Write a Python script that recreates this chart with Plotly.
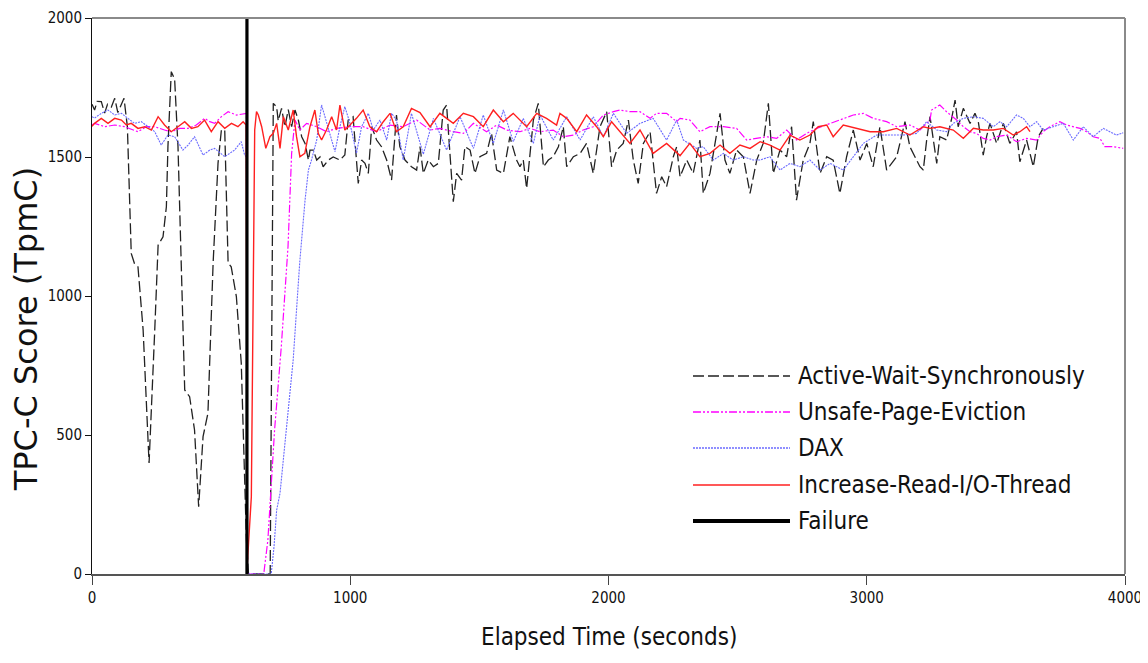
import plotly.graph_objects as go

FAILURE_TIME = 600
Y_MAX = 2000

# (elapsed seconds, TPC-C score)
ACTIVE_WAIT = [
    (0, 1690), (10, 1669), (20, 1700), (36, 1699), (49, 1658), (60, 1690), (75, 1680), (88, 1711),
    (100, 1660), (113, 1690), (124, 1711), (137, 1609), (152, 1153), (165, 1115), (178, 1105),
    (198, 878), (221, 399), (243, 878), (256, 1183), (275, 1213), (288, 1321), (294, 1537),
    (307, 1807), (320, 1780), (333, 1537), (359, 662), (378, 638), (397, 518), (413, 242),
    (430, 494), (449, 579), (469, 1119), (488, 1478), (501, 1597), (514, 1597), (527, 1119),
    (539, 1105), (559, 998), (578, 758), (598, 122), (606, 0), (690, 0),
    (702, 1693), (715, 1680), (721, 1630), (734, 1675), (747, 1609), (760, 1670), (773, 1609),
    (786, 1669), (799, 1633), (812, 1573), (825, 1549), (838, 1489), (844, 1525), (857, 1525),
    (870, 1489), (883, 1500), (895, 1465), (915, 1489), (934, 1500), (960, 1489), (979, 1507),
    (992, 1633), (1011, 1645), (1031, 1405), (1044, 1489), (1057, 1477), (1070, 1441),
    (1083, 1609), (1102, 1561), (1121, 1537), (1141, 1489), (1160, 1417), (1179, 1651),
    (1192, 1537), (1212, 1489), (1237, 1465), (1257, 1453), (1270, 1537), (1283, 1441),
    (1302, 1489), (1322, 1465), (1341, 1477), (1360, 1669), (1373, 1687), (1393, 1441),
    (1399, 1339), (1412, 1441), (1431, 1417), (1444, 1537), (1464, 1525), (1483, 1441),
    (1502, 1501), (1528, 1513), (1547, 1585), (1567, 1453), (1593, 1441), (1618, 1573),
    (1644, 1489), (1657, 1465), (1670, 1489), (1683, 1387), (1709, 1633), (1728, 1693),
    (1748, 1465), (1767, 1489), (1786, 1501), (1806, 1537), (1825, 1609), (1838, 1465),
    (1864, 1501), (1890, 1513), (1915, 1549), (1941, 1441), (1967, 1609), (1993, 1663),
    (2012, 1465), (2032, 1525), (2057, 1549), (2077, 1633), (2096, 1489), (2115, 1405),
    (2135, 1549), (2161, 1591), (2173, 1489), (2186, 1369), (2206, 1429), (2225, 1393),
    (2251, 1501), (2264, 1537), (2277, 1429), (2303, 1489), (2328, 1441), (2354, 1561),
    (2367, 1369), (2393, 1441), (2432, 1657), (2451, 1489), (2470, 1441), (2496, 1525),
    (2522, 1501), (2548, 1369), (2574, 1489), (2599, 1549), (2619, 1693), (2638, 1441),
    (2664, 1525), (2690, 1501), (2709, 1609), (2728, 1345), (2754, 1489), (2780, 1549),
    (2793, 1627), (2819, 1441), (2845, 1501), (2870, 1489), (2896, 1369), (2922, 1501),
    (2948, 1597), (2974, 1489), (3000, 1549), (3025, 1465), (3051, 1609), (3077, 1453),
    (3116, 1501), (3148, 1627), (3167, 1537), (3206, 1465), (3219, 1453), (3232, 1561),
    (3245, 1645), (3258, 1561), (3271, 1477), (3283, 1573), (3309, 1561), (3329, 1639),
    (3342, 1705), (3354, 1609), (3374, 1675), (3400, 1621), (3419, 1657), (3432, 1627),
    (3451, 1507), (3464, 1573), (3477, 1621), (3503, 1549), (3529, 1621), (3554, 1549),
    (3580, 1591), (3593, 1483), (3619, 1561), (3645, 1465), (3664, 1573), (3683, 1603),
]

UNSAFE_PAGE = [
    (0, 1615), (10, 1621), (49, 1609), (88, 1615), (126, 1609), (165, 1597), (178, 1591),
    (210, 1609), (243, 1609), (281, 1597), (307, 1591), (339, 1603), (372, 1603), (404, 1615),
    (436, 1639), (456, 1627), (475, 1621), (501, 1645), (527, 1663), (559, 1651), (591, 1657),
    (598, 1657), (602, 0), (665, 0), (681, 122), (707, 518), (733, 818), (759, 1177),
    (773, 1513), (786, 1633), (805, 1597), (831, 1621), (870, 1609), (908, 1591), (947, 1603),
    (999, 1609), (1050, 1609), (1102, 1591), (1154, 1615), (1205, 1609), (1257, 1633),
    (1309, 1597), (1347, 1603), (1399, 1591), (1438, 1585), (1477, 1621), (1528, 1591),
    (1567, 1615), (1606, 1597), (1657, 1591), (1696, 1603), (1735, 1591), (1786, 1597),
    (1825, 1573), (1864, 1579), (1902, 1597), (1941, 1609), (1980, 1651), (2019, 1663),
    (2044, 1669), (2083, 1663), (2122, 1663), (2161, 1639), (2186, 1657), (2225, 1657),
    (2264, 1627), (2277, 1639), (2315, 1633), (2354, 1591), (2393, 1609), (2445, 1609),
    (2496, 1603), (2535, 1561), (2574, 1567), (2612, 1573), (2651, 1567), (2690, 1597),
    (2728, 1561), (2767, 1585), (2806, 1603), (2858, 1621), (2896, 1633), (2948, 1651),
    (2987, 1657), (3025, 1639), (3077, 1627), (3116, 1609), (3167, 1615), (3206, 1597),
    (3245, 1633), (3251, 1669), (3283, 1687), (3309, 1663), (3348, 1633), (3374, 1609),
    (3400, 1591), (3425, 1585), (3451, 1567), (3477, 1561), (3503, 1573), (3542, 1579),
    (3580, 1555), (3619, 1567), (3658, 1561), (3683, 1591), (3709, 1609), (3748, 1627),
    (3774, 1615), (3800, 1609), (3826, 1603), (3851, 1591), (3877, 1573), (3903, 1567),
    (3922, 1537), (3955, 1537), (3993, 1531),
]

DAX = [
    (0, 1645), (10, 1640), (36, 1657), (62, 1669), (88, 1651), (114, 1657), (139, 1639),
    (165, 1621), (191, 1627), (217, 1609), (243, 1591), (268, 1543), (294, 1579), (320, 1573),
    (352, 1525), (372, 1543), (397, 1573), (430, 1507), (456, 1525), (475, 1531), (514, 1501),
    (552, 1525), (578, 1555), (591, 1507), (598, 1500), (602, 0), (694, 0), (705, 100),
    (715, 230), (728, 290), (741, 410), (760, 600), (779, 770), (792, 950), (805, 1129),
    (825, 1345), (838, 1453), (850, 1489), (870, 1561), (889, 1687), (908, 1621), (928, 1561),
    (941, 1519), (960, 1609), (979, 1681), (999, 1621), (1024, 1513), (1044, 1609),
    (1070, 1657), (1089, 1597), (1115, 1633), (1141, 1561), (1160, 1657), (1179, 1633),
    (1205, 1489), (1237, 1657), (1258, 1590), (1283, 1510), (1322, 1639), (1373, 1525),
    (1425, 1645), (1477, 1531), (1515, 1651), (1554, 1549), (1593, 1669), (1631, 1555),
    (1670, 1639), (1709, 1549), (1735, 1651), (1786, 1561), (1838, 1645), (1890, 1561),
    (1941, 1645), (1980, 1573), (2019, 1657), (2070, 1585), (2122, 1621), (2173, 1639),
    (2225, 1561), (2264, 1633), (2290, 1561), (2341, 1531), (2367, 1537), (2406, 1489),
    (2445, 1513), (2483, 1489), (2522, 1501), (2561, 1489), (2587, 1489), (2625, 1501),
    (2664, 1453), (2703, 1477), (2741, 1465), (2780, 1489), (2819, 1453), (2858, 1477),
    (2909, 1453), (2948, 1501), (2987, 1549), (3038, 1579), (3090, 1579), (3142, 1579),
    (3193, 1585), (3232, 1627), (3271, 1597), (3309, 1591), (3335, 1621), (3374, 1639),
    (3413, 1645), (3451, 1639), (3490, 1609), (3516, 1627), (3542, 1609), (3580, 1651),
    (3606, 1639), (3632, 1609), (3658, 1627), (3683, 1597), (3722, 1609), (3761, 1621),
    (3800, 1561), (3838, 1609), (3877, 1573), (3916, 1603), (3941, 1591), (3967, 1579),
    (3993, 1587),
]

INCREASE_READ = [
    (0, 1610), (10, 1621), (36, 1639), (62, 1621), (88, 1639), (114, 1633), (133, 1615),
    (152, 1621), (178, 1603), (204, 1609), (230, 1597), (256, 1645), (281, 1615), (307, 1591),
    (333, 1609), (359, 1627), (385, 1603), (410, 1609), (436, 1633), (462, 1591), (488, 1627),
    (514, 1603), (540, 1621), (565, 1609), (585, 1627), (597, 1615), (601, 30), (617, 278),
    (630, 1597), (637, 1663), (644, 1651), (657, 1609), (673, 1531), (689, 1573), (702, 1585),
    (715, 1621), (728, 1531), (741, 1645), (760, 1597), (779, 1669), (792, 1573), (805, 1501),
    (824, 1513), (844, 1609), (863, 1669), (876, 1585), (889, 1561), (908, 1597), (928, 1645),
    (947, 1597), (960, 1687), (979, 1597), (999, 1615), (1024, 1639), (1050, 1669),
    (1076, 1609), (1102, 1591), (1128, 1627), (1154, 1657), (1179, 1591), (1205, 1609),
    (1237, 1675), (1270, 1660), (1309, 1609), (1347, 1657), (1399, 1621), (1438, 1657),
    (1477, 1645), (1515, 1609), (1554, 1669), (1593, 1627), (1631, 1657), (1683, 1609),
    (1722, 1657), (1760, 1639), (1799, 1615), (1812, 1657), (1838, 1639), (1877, 1591),
    (1915, 1651), (1954, 1609), (1980, 1573), (2012, 1627), (2044, 1591), (2083, 1549),
    (2122, 1597), (2173, 1513), (2225, 1549), (2277, 1505), (2315, 1549), (2354, 1501),
    (2393, 1513), (2432, 1543), (2470, 1513), (2509, 1543), (2548, 1531), (2587, 1555),
    (2625, 1543), (2664, 1525), (2703, 1579), (2741, 1561), (2780, 1579), (2812, 1609),
    (2845, 1615), (2870, 1573), (2909, 1615), (2961, 1603), (3013, 1591), (3064, 1591),
    (3116, 1603), (3167, 1579), (3219, 1609), (3245, 1603), (3283, 1609), (3335, 1597),
    (3374, 1567), (3413, 1603), (3451, 1597), (3490, 1597), (3529, 1603), (3567, 1579),
    (3593, 1591), (3619, 1609), (3632, 1591),
]

SERIES_NAMES = ["Active-Wait-Synchronously", "Unsafe-Page-Eviction", "DAX",
                "Increase-Read-I/O-Thread", "Failure"]

X_TICKS = [0, 1000, 2000, 3000, 4000]
Y_TICKS = [0, 500, 1000, 1500, 2000]
X_TITLE = "Elapsed Time (seconds)"
Y_TITLE = "TPC-C Score (TpmC)"

STYLES = {
    "Active-Wait-Synchronously": dict(color="#222222", width=1.3, dash="11px,4px"),
    "Unsafe-Page-Eviction": dict(color="#FF00FF", width=1.2, dash="8px,2px,2px,2px,2px,2px"),
    "DAX": dict(color="#6A6AFF", width=1.1, dash="2px,1px"),
    "Increase-Read-I/O-Thread": dict(color="#FF2020", width=1.4, dash="solid"),
    "Failure": dict(color="#000000", width=3.2, dash="solid"),
}

FONT = "DejaVu Sans Condensed, Liberation Sans Narrow, DejaVu Sans, sans-serif"

fig = go.Figure()
for name, pts in zip(SERIES_NAMES[:4], [ACTIVE_WAIT, UNSAFE_PAGE, DAX, INCREASE_READ]):
    fig.add_trace(go.Scatter(
        x=[p[0] for p in pts], y=[p[1] for p in pts], mode="lines", name=name,
        line=STYLES[name], showlegend=False, cliponaxis=True,
    ))
fig.add_trace(go.Scatter(
    x=[FAILURE_TIME, FAILURE_TIME], y=[0, Y_MAX], mode="lines", name="Failure",
    line=STYLES["Failure"], showlegend=False,
))

# Legend drawn inside the plot area (long line samples like the original)
L_LEFT, L_RIGHT, L_TEXT = 0.5818, 0.6757, 0.6815
L_ROWS = [0.3561, 0.2914, 0.2266, 0.1601, 0.0953]
shapes = []
annotations = []
for name, yy in zip(SERIES_NAMES, L_ROWS):
    st = STYLES[name]
    shapes.append(dict(type="line", xref="paper", yref="paper", x0=L_LEFT, x1=L_RIGHT,
                       y0=yy, y1=yy,
                       line=dict(color=st["color"],
                                 width=4 if name == "Failure" else st["width"] + 0.3,
                                 dash=st["dash"])))
    annotations.append(dict(xref="paper", yref="paper", x=L_TEXT, y=yy, text=name,
                            showarrow=False, xanchor="left", yanchor="middle",
                            font=dict(family=FONT, size=24, color="#111111")))

# axis titles
annotations.append(dict(xref="paper", yref="paper", x=0.5, y=-0.113, text=X_TITLE,
                        showarrow=False, xanchor="center", yanchor="middle",
                        font=dict(family=FONT, size=24, color="#111111")))
annotations.append(dict(xref="paper", yref="paper", x=-0.064, y=0.44, text=Y_TITLE,
                        showarrow=False, xanchor="center", yanchor="middle", textangle=-90,
                        font=dict(family="DejaVu Sans, sans-serif", size=32, color="#111111")))

# top / right frame lines (grey)
shapes.append(dict(type="line", xref="paper", yref="paper", x0=0, x1=1, y0=1, y1=1,
                   line=dict(color="#8a8a8a", width=2)))
shapes.append(dict(type="line", xref="paper", yref="paper", x0=1, x1=1, y0=0, y1=1,
                   line=dict(color="#8a8a8a", width=2)))

# the page body adds an 8px offset, so the figure is sized to fit the window
fig.update_layout(
    width=1140, height=655,
    margin=dict(l=84, r=23, t=10, b=89, autoexpand=False),
    paper_bgcolor="white", plot_bgcolor="white",
    showlegend=False,
    shapes=shapes, annotations=annotations,
    xaxis=dict(
        range=[0, 4000], tickvals=X_TICKS, ticktext=[str(v) for v in X_TICKS],
        showgrid=False, zeroline=False, showline=True, linecolor="#555555", linewidth=2,
        ticks="outside", ticklen=9, tickcolor="#444444", tickwidth=1, automargin=False,
        tickfont=dict(family=FONT, size=15, color="#111111"),
    ),
    yaxis=dict(
        range=[0, 2000], tickvals=Y_TICKS, ticktext=[str(v) for v in Y_TICKS],
        showgrid=False, zeroline=False, showline=True, linecolor="#111111", linewidth=1,
        ticks="outside", ticklen=6, tickcolor="#111111", tickwidth=1, automargin=False,
        tickfont=dict(family=FONT, size=15, color="#111111"),
    ),
)

fig.write_html("out.html")
